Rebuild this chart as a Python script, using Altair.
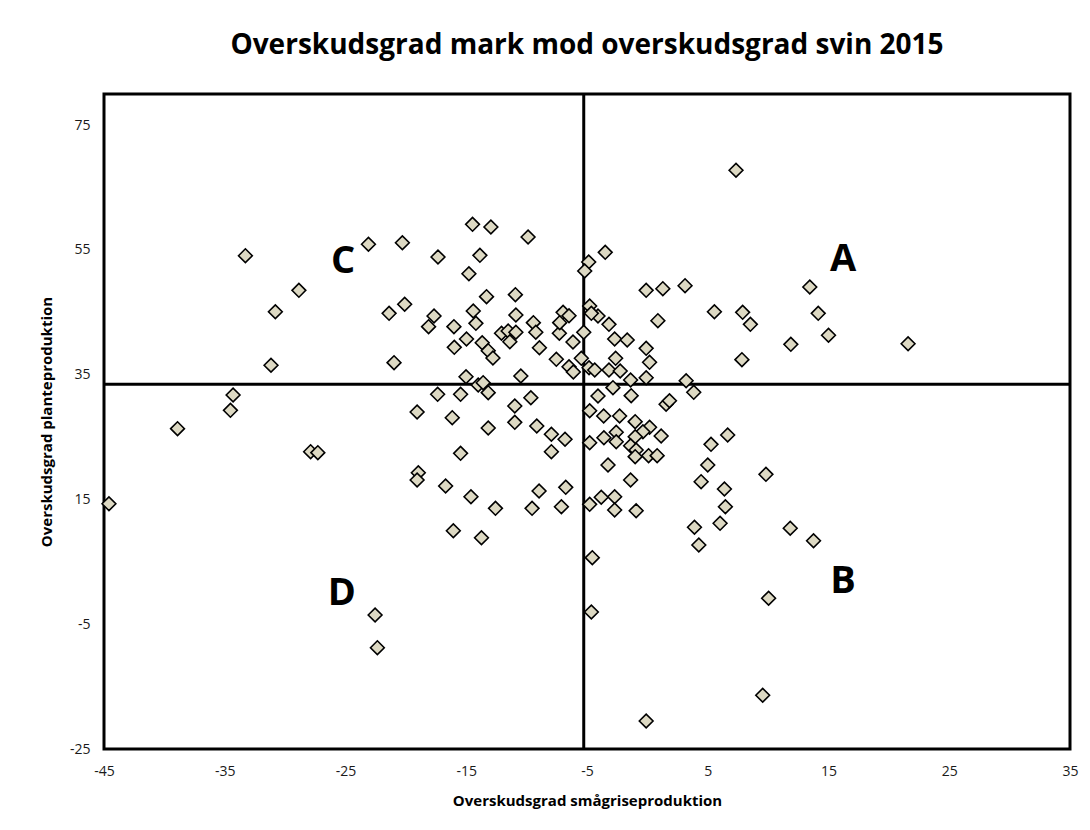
import altair as alt
import pandas as pd

# ---- data ----
x_vals = [
    -33.29, -28.86, -30.81, -31.17, -34.31, -34.53, -38.91, -44.59, -27.89, -27.29,
    -23.10, -20.29, -17.34, -14.48, -12.96, -9.88, -13.87, -14.78, -13.32, -10.93,
    -20.10, -21.39, -17.67, -18.12, -16.02, -14.42, -14.20, -10.89, -14.98, -15.99,
    -13.68, -13.18, -12.79, -12.08, -11.53, -10.89, -11.39, -9.44, -9.24, -8.94,
    -7.29, -6.98, -7.26, -6.49, -6.16, -5.27, -7.54, -6.49, -6.13, -5.47,
    -20.98, -15.02, -10.48, -14.01, -13.60, -13.18, -17.37, -15.47, -9.65, -10.98,
    -19.07, -16.16, -13.18, -10.98, -9.16, -7.95, -6.82, -7.95, -15.47, -18.97,
    -19.07, -16.71, -14.61, -12.58, -9.55, -8.97, -6.76, -7.12, -16.07, -13.74,
    -22.55, -22.36,
    7.34, -3.49, -4.86, -5.19, -0.10, 1.28, 3.12, 13.45, -4.78, -4.09,
    -3.18, -4.64, 0.87, 5.55, 7.89, 8.53, 14.15, 15.00, 11.88, 21.59,
    7.83, -2.71, -1.67, -0.10, 0.18, -2.63, -4.83, -4.36, -3.18, -2.25,
    -1.39, -0.10, -2.85, -4.09, -1.34, 3.21, 3.84, 1.55, 1.83, -4.78,
    -3.62, -2.30, -1.01, 0.18, -0.37, -2.58, -3.60, -4.78, -2.58, -1.01,
    1.14, -1.39, -0.93, -1.01, 0.10, 0.81, 6.65, 5.27, 5.00, -3.26,
    9.82, 4.45, -1.39, 6.38, -3.82, -2.71, -4.78, -2.71, -0.93, 6.46,
    3.90, 6.02, 4.26, 11.83, 13.76, -4.56, -4.64, 10.04, 9.55, -0.10,
]
y_vals = [
    54.08, 48.53, 45.10, 36.51, 31.75, 29.29, 26.35, 14.32, 22.66, 22.50,
    55.91, 56.16, 53.87, 59.11, 58.68, 57.08, 54.14, 51.19, 47.51, 47.83,
    46.29, 44.84, 44.41, 42.70, 42.70, 45.21, 43.24, 44.57, 40.72, 39.39,
    40.13, 38.85, 37.68, 41.64, 42.01, 41.80, 40.29, 43.34, 41.80, 39.33,
    41.64, 45.00, 43.34, 44.46, 40.24, 41.80, 37.47, 36.28, 35.43, 37.63,
    36.93, 34.68, 34.79, 33.35, 33.72, 32.12, 31.86, 31.86, 31.31, 29.98,
    29.02, 28.11, 26.46, 27.37, 26.78, 25.45, 24.65, 22.66, 22.40, 19.29,
    18.12, 17.16, 15.44, 13.58, 13.58, 16.36, 16.95, 13.84, 9.99, 8.87,
    -3.52, -8.76,
    67.77, 54.62, 53.07, 51.63, 48.53, 48.79, 49.27, 49.06, 46.01, 44.41,
    43.08, 44.84, 43.66, 45.10, 45.00, 43.08, 44.84, 41.32, 39.87, 39.97,
    37.41, 40.72, 40.56, 39.23, 36.99, 37.63, 36.12, 35.75, 35.75, 35.59,
    34.15, 34.52, 32.92, 31.59, 31.64, 34.04, 32.18, 30.26, 30.83, 29.23,
    28.38, 28.38, 27.47, 26.57, 25.86, 25.77, 24.90, 24.10, 24.26, 25.06,
    25.17, 23.62, 22.93, 21.86, 22.02, 22.02, 25.34, 23.84, 20.53, 20.53,
    19.03, 17.85, 18.12, 16.68, 15.35, 15.44, 14.22, 13.31, 13.20, 13.84,
    10.54, 11.18, 7.70, 10.38, 8.39, 5.67, -3.04, -0.84, -16.39, -20.51,
]

ref_x = [-5.27]
ref_y = [33.46]

quad_labels = ["A", "B", "C", "D"]
quad_x = [16.2, 16.2, -25.2, -25.3]
quad_y = [53.4, 1.8, 53.1, -0.2]

title_text = "Overskudsgrad mark mod overskudsgrad svin 2015"
x_title = "Overskudsgrad smågriseproduktion"
y_title = "Overskudsgrad planteproduktion"
x_ticks = [-45, -35, -25, -15, -5, 5, 15, 25, 35]
y_ticks = [-25, -5, 15, 35, 55, 75]

FONT = "Open Sans"
HYPHEN_EXPR = "replace(datum.label, '\u2212', '-')"

pts = pd.DataFrame({"x": x_vals, "y": y_vals})
vline = pd.DataFrame({"x": ref_x})
hline = pd.DataFrame({"y": ref_y})
quads = pd.DataFrame({"label": quad_labels, "x": quad_x, "y": quad_y})

xscale = alt.Scale(domain=[-45, 35], nice=False, zero=False)
yscale = alt.Scale(domain=[-25, 80], nice=False, zero=False)

xaxis = alt.Axis(values=x_ticks, title=x_title, grid=False, ticks=False, domain=False,
                 labelExpr=HYPHEN_EXPR, labelFlush=False, labelOverlap=False,
                 labelFont=FONT, labelFontSize=14, labelColor="#1a1a1a", labelPadding=15,
                 titleFont=FONT, titleFontSize=15, titleFontWeight="bold", titleColor="#000000",
                 titlePadding=15)
yaxis = alt.Axis(values=y_ticks, title=y_title, grid=False, ticks=False, domain=False,
                 labelExpr=HYPHEN_EXPR, labelFlush=False, labelOverlap=False,
                 labelFont=FONT, labelFontSize=14, labelColor="#1a1a1a", labelPadding=14,
                 titleFont=FONT, titleFontSize=15, titleFontWeight="bold", titleColor="#000000",
                 titlePadding=15)

points = alt.Chart(pts).mark_point(
    shape="diamond", filled=True, size=190, fill="#DDD9C3", stroke="#000000",
    strokeWidth=1.6, opacity=1
).encode(
    x=alt.X("x:Q", scale=xscale, axis=xaxis),
    y=alt.Y("y:Q", scale=yscale, axis=yaxis),
)

vrule = alt.Chart(vline).mark_rule(color="#000000", strokeWidth=3).encode(
    x=alt.X("x:Q", scale=xscale)
)
hrule = alt.Chart(hline).mark_rule(color="#000000", strokeWidth=3).encode(
    y=alt.Y("y:Q", scale=yscale)
)

texts = alt.Chart(quads).mark_text(
    font=FONT, fontSize=38, fontWeight="bold", color="#000000",
    align="center", baseline="middle"
).encode(
    x=alt.X("x:Q", scale=xscale),
    y=alt.Y("y:Q", scale=yscale),
    text="label:N",
)

chart = alt.layer(vrule, hrule, points, texts).properties(
    width=966,
    height=655,
    title=alt.TitleParams(text=title_text, font=FONT, fontSize=28, fontWeight="bold",
                          color="#000000", anchor="middle", offset=33),
    autosize=alt.AutoSizeParams(type="none"),
    padding={"left": 96, "top": 86, "right": 11, "bottom": 68},
).configure(
    background="#ffffff",
    view=alt.ViewConfig(stroke="#000000", strokeWidth=3),
)

chart.save("out.html", embed_options={"renderer": "svg", "actions": False})
